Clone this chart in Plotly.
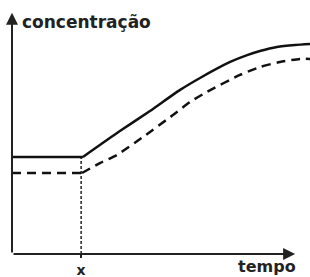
import plotly.graph_objects as go

# Data (arbitrary units)
time_solid = [0, 23.8, 36.2, 46.3, 56.4, 63.1, 73.2, 78.9, 83.2, 88.9, 95.0, 100]
conc_solid = [38.2, 38.2, 48.4, 56.3, 64.6, 69.3, 75.6, 78.3, 79.9, 81.5, 82.3, 82.7]

time_dashed = [0, 23.5, 29.5, 35.2, 44.0, 54.0, 59.7, 65.4, 76.5, 83.2, 89.9, 96.6, 100]
conc_dashed = [31.9, 31.9, 35.8, 39.0, 46.1, 54.7, 59.8, 63.8, 70.5, 73.6, 75.6, 76.8, 76.8]

x_mark = 23.2
x_tick_labels = ["x"]
y_label = "concentração"
x_label = "tempo"
axis_x_end = 95
axis_y_end = 95

FONT = "DejaVu Sans"

fig = go.Figure()

# dotted guide at x
fig.add_trace(go.Scatter(
    x=[x_mark, x_mark], y=[0, conc_solid[1]], mode="lines",
    line=dict(color="#222", width=1.5, dash="3px,2px"), showlegend=False, hoverinfo="skip"))

# solid: flat part then smooth rise
fig.add_trace(go.Scatter(
    x=time_solid[:2], y=conc_solid[:2], mode="lines",
    line=dict(color="#111", width=2.5), showlegend=False, hoverinfo="skip"))
fig.add_trace(go.Scatter(
    x=time_solid[1:], y=conc_solid[1:], mode="lines",
    line=dict(color="#111", width=2.5, shape="spline", smoothing=0.6),
    showlegend=False, hoverinfo="skip"))

# dashed: flat part then smooth rise
fig.add_trace(go.Scatter(
    x=time_dashed[:2], y=conc_dashed[:2], mode="lines",
    line=dict(color="#111", width=2.5, dash="9px,6px"), showlegend=False, hoverinfo="skip"))
fig.add_trace(go.Scatter(
    x=time_dashed[1:], y=conc_dashed[1:], mode="lines",
    line=dict(color="#111", width=2.5, dash="9px,6px", shape="spline", smoothing=0.6),
    showlegend=False, hoverinfo="skip"))

# axes with arrows
fig.add_annotation(x=axis_x_end, y=0, ax=0, ay=0, xref="x", yref="y", axref="x", ayref="y",
                   text="", showarrow=True, arrowhead=2, arrowsize=1.2, arrowwidth=2,
                   arrowcolor="#222", standoff=0)
fig.add_annotation(x=0, y=axis_y_end, ax=0, ay=0, xref="x", yref="y", axref="x", ayref="y",
                   text="", showarrow=True, arrowhead=2, arrowsize=1.2, arrowwidth=2,
                   arrowcolor="#222", standoff=0)

fig.add_annotation(x=2.8, y=91.5, xref="x", yref="y", text="<b>" + y_label + "</b>",
                   showarrow=False, xanchor="left", yanchor="middle",
                   font=dict(family=FONT, size=17, color="#222"))
fig.add_annotation(x=96, y=0, xref="x", yref="y", text="<b>" + x_label + "</b>",
                   showarrow=False, xanchor="right", yanchor="top", yshift=-1,
                   font=dict(family=FONT, size=16, color="#222"))

fig.update_layout(
    width=310, height=277,
    margin=dict(l=12, r=0, t=0, b=23, autoexpand=False),
    paper_bgcolor="white", plot_bgcolor="white",
    xaxis=dict(range=[0, 100], showgrid=False, zeroline=False, showline=False, automargin=False,
               tickmode="array", tickvals=[x_mark], ticktext=["<b>" + t + "</b>" for t in x_tick_labels],
               ticks="outside", ticklen=3, tickwidth=2, tickcolor="#222", ticklabelstandoff=0,
               tickfont=dict(family=FONT, size=14, color="#222"), fixedrange=True),
    yaxis=dict(range=[0, 100], showgrid=False, zeroline=False, showline=False, automargin=False,
               showticklabels=False, ticks="", fixedrange=True),
)

fig.write_html("out.html", config={"displayModeBar": False},
               post_script="document.body.style.margin='0';document.body.style.padding='0';")
